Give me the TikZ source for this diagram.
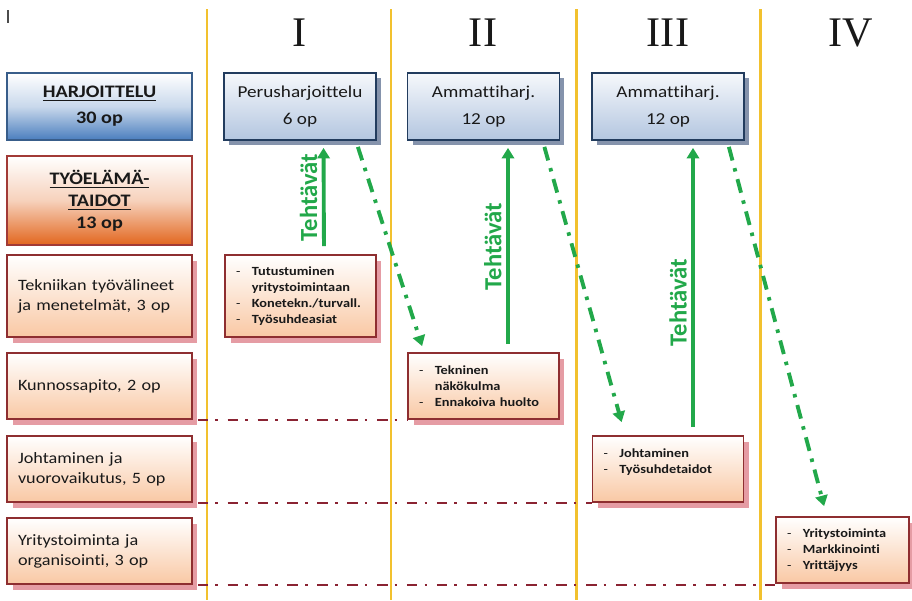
\documentclass[tikz,border=0pt]{standalone}
\usepackage{fontspec}
\setmainfont{Carlito}[FakeStretch=1.15, Ligatures=NoCommon]
\newfontfamily\labelfont{Carlito}[Ligatures=NoCommon]
\newfontfamily\numfont{Liberation Serif}
\usetikzlibrary{arrows.meta,shadows}

\definecolor{harjblue}{HTML}{4A7EBE}
\definecolor{harjline}{HTML}{385D8A}
\definecolor{tyoorange}{HTML}{E2661E}
\definecolor{tyoline}{HTML}{A23A36}
\definecolor{peach}{HTML}{F9C8A4}
\definecolor{peachline}{HTML}{8E2E30}
\definecolor{peachshadow}{HTML}{E59CA4}
\definecolor{paleblue}{HTML}{B3C6E0}
\definecolor{palebline}{HTML}{223C5E}
\definecolor{blueshadow}{HTML}{8593AC}
\definecolor{taskgreen}{HTML}{22A84A}
\definecolor{phaseyellow}{HTML}{F2C12E}
\definecolor{linkred}{HTML}{8A2332}

\newcommand{\taskline}[1]{\makebox[9pt][l]{\mdseries-}#1}
\newcommand{\taskcont}[1]{\hspace*{9pt}#1}

\begin{document}
\begin{tikzpicture}[
        x=0.02cm, y=-0.02cm,
        every node/.style={text=black!90, inner sep=0pt},
        headbox/.style={draw, line width=1pt, minimum width=3.7cm, align=center,
          font=\bfseries\fontsize{10}{12.5}\selectfont},
        areabox/.style={draw=peachline, line width=1pt, top color=white, bottom color=peach,
          text width=3.26cm, inner xsep=0.22cm, align=left,
          font=\fontsize{9}{11.3}\selectfont,
          drop shadow={shadow xshift=0.11cm, shadow yshift=-0.11cm, fill=peachshadow, opacity=1}},
        taskbox/.style={areabox, text width=2.58cm, font=\bfseries\fontsize{7.1}{9}\selectfont},
        phasebox/.style={draw=palebline, line width=1pt, top color=paleblue!12, bottom color=paleblue,
          minimum width=3.04cm, minimum height=1.34cm, align=center,
          font=\fontsize{9.5}{15}\selectfont,
          drop shadow={shadow xshift=0.1cm, shadow yshift=-0.1cm, fill=blueshadow, opacity=1}},
        numeral/.style={font=\numfont\fontsize{24}{28}\selectfont},
        phaseline/.style={draw=phaseyellow, line width=1.7pt},
        taskarrow/.style={draw=taskgreen, line width=2.2pt, shorten <=0.16cm, shorten >=0.14cm,
          -{Triangle[length=6pt,width=7pt]}},
        tasklabel/.style={rotate=90, anchor=south, inner sep=2.5pt, text=taskgreen,
          font=\labelfont\bfseries\fontsize{14}{16}\selectfont},
        linkarrow/.style={draw=taskgreen, line width=2.2pt,
          dash pattern=on 8pt off 4.5pt on 2pt off 4.5pt,
          -{Triangle[length=6pt,width=7pt]}},
        rowline/.style={draw=linkred, line width=1.2pt,
          dash pattern=on 6pt off 4pt on 1.5pt off 5.5pt}
      ]
        \useasboundingbox (0,0) rectangle (912,600);

        \draw[phaseline] (207,9) -- (207,600);
        \draw[phaseline] (391,9) -- (391,600);
        \draw[phaseline] (576,9) -- (576,600);
        \draw[phaseline] (760,9) -- (760,600);
        \draw[black!70, line width=0.6pt] (8,10) -- (8,23);

        \node[numeral] (n1) at (300,33) {I};
        \node[numeral] (n2) at (483,33) {II};
        \node[numeral] (n3) at (668,33) {III};
        \node[numeral] (n4) at (851,33) {IV};

        \node[headbox, draw=harjline, top color=white, bottom color=harjblue,
          middle color=harjblue!30, minimum height=1.34cm] (harj) at (99.5,106.5)
          {\underline{HARJOITTELU}\\[2.2pt]30 op};
        \node[headbox, draw=tyoline, top color=white, bottom color=tyoorange,
          middle color=tyoorange!30, minimum height=1.78cm] (tyo) at (99.5,200.5)
          {\underline{TYÖELÄMÄ-}\\\underline{TAIDOT}\\13 op};

        \node[areabox, minimum height=1.64cm] (tek) at (99.5,296) {Tekniikan työvälineet\\ja menetelmät, 3 op};
        \node[areabox, minimum height=1.32cm] (kun) at (99.5,386) {Kunnossapito, 2 op};
        \node[areabox, minimum height=1.32cm] (joh) at (99.5,469) {Johtaminen ja\\vuorovaikutus, 5 op};
        \node[areabox, minimum height=1.32cm] (yri) at (99.5,551) {Yritystoiminta ja\\organisointi, 3 op};

        \node[phasebox] (p1) at (300,106.5) {Perusharjoittelu\\6 op};
        \node[phasebox] (p2) at (483.5,106.5) {Ammattiharj.\\12 op};
        \node[phasebox] (p3) at (668,106.5) {Ammattiharj.\\12 op};

        \node[taskbox, minimum height=1.64cm] (t1) at (300.5,296)
          {\taskline{Tutustuminen}\\\taskcont{yritystoimintaan}\\\taskline{Konetekn./turvall.}\\\taskline{Työsuhdeasiat}};
        \node[taskbox, minimum height=1.32cm] (t2) at (483.5,386)
          {\taskline{Tekninen}\\\taskcont{näkökulma}\\\taskline{Ennakoiva huolto}};
        \node[taskbox, minimum height=1.32cm] (t3) at (668,469)
          {\taskline{Johtaminen}\\\taskline{Työsuhdetaidot}\\\mbox{}};
        \node[taskbox, text width=2.22cm, minimum height=1.32cm] (t4) at (842.5,550)
          {\taskline{Yritystoiminta}\\\taskline{Markkinointi}\\\taskline{Yrittäjyys}};

        \draw[taskarrow] ([xshift=0.47cm]t1.north) -- ([xshift=0.47cm]p1.south)
          node[tasklabel, midway] {Tehtävät};
        \draw[taskarrow] ([xshift=0.49cm]t2.north) -- ([xshift=0.49cm]p2.south)
          node[tasklabel, midway] {Tehtävät};
        \draw[taskarrow] ([xshift=0.5cm]t3.north) -- ([xshift=0.5cm]p3.south)
          node[tasklabel, pos=0.45] {Tehtävät};

        \draw[linkarrow] ([shift={(-0.38cm,-0.12cm)}]p1.south east) -- ([shift={(0.3cm,0.12cm)}]t2.north west);
        \draw[linkarrow] ([shift={(-0.32cm,-0.12cm)}]p2.south east) -- ([shift={(0.6cm,0.26cm)}]t3.north west);
        \draw[linkarrow] ([shift={(-0.32cm,-0.12cm)}]p3.south east) -- ([shift={(0.98cm,0.2cm)}]t4.north west);

        \draw[rowline] ([xshift=0.1cm]kun.south east) -- (kun.south east -| t2.west);
        \draw[rowline] ([xshift=0.1cm]joh.south east) -- (joh.south east -| t3.west);
        \draw[rowline] ([xshift=0.1cm]yri.south east) -- (yri.south east -| t4.west);
      \end{tikzpicture}
\end{document}
